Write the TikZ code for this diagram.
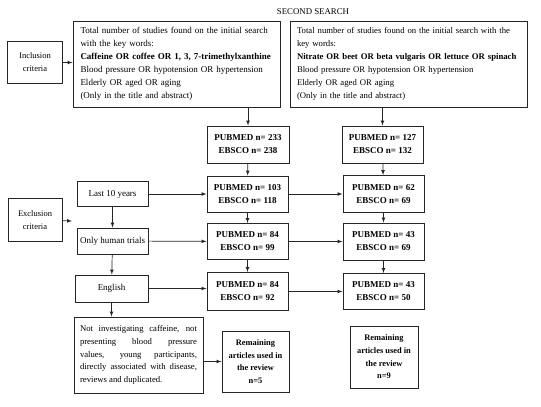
\documentclass[tikz,border=0pt]{standalone}
\usepackage{fontspec}
\setmainfont{Liberation Serif}
\usetikzlibrary{arrows}

\begin{document}
\begin{tikzpicture}[x=1pt,y=-1pt,
    box/.style={draw=black!85, line width=1pt, rectangle, align=center, inner sep=0pt, font=\fontsize{9}{13}\selectfont},
    link/.style={-latex, draw=black!85, line width=0.7pt}]
                \useasboundingbox (0,0) rectangle (541,407);
                \node[font=\fontsize{8.8}{10}\selectfont] (title) at (313,12) {SECOND SEARCH};
                \node[box, minimum width=55pt, minimum height=42pt, font=\fontsize{8.5}{13}\selectfont] (incl) at (35,62) {Inclusion\\criteria};
                \node[box, minimum width=54pt, minimum height=43pt, font=\fontsize{8.5}{13}\selectfont] (excl) at (35,220) {Exclusion\\criteria};
                \node[box, minimum width=207pt, minimum height=86pt, text width=192pt, align=left] (search1) at (176.5,64) {Total number of studies found on the initial search\\with the key words:\\\textbf{Caffeine OR coffee OR 1, 3, 7-trimethylxanthine}\\Blood pressure OR hypotension OR hypertension\\Elderly OR aged OR aging\\(Only in the title and abstract)};
                \node[box, minimum width=237pt, minimum height=86pt, text width=223pt, align=left, font=\fontsize{8.7}{13}\selectfont] (search2) at (408.5,64) {\mbox{Total number of studies found on the initial search with the}\\key words:\\\mbox{\textbf{Nitrate OR beet OR beta vulgaris OR lettuce OR spinach}}\\Blood pressure OR hypotension OR hypertension\\Elderly OR aged OR aging\\(Only in the title and abstract)};
                \node[box, minimum width=82pt, minimum height=37pt] (pa1) at (248,144.5) {\textbf{PUBMED n= 233}\\\textbf{EBSCO n= 238}};
                \node[box, minimum width=81pt, minimum height=37pt] (pb1) at (382.5,144.5) {\textbf{PUBMED n= 127}\\\textbf{EBSCO n= 132}};
                \node[box, minimum width=71pt, minimum height=25pt] (last10) at (112.5,194) {Last 10 years};
                \node[box, minimum width=81pt, minimum height=36pt] (pa2) at (247.5,194) {\textbf{PUBMED n= 103}\\\textbf{EBSCO n= 118}};
                \node[box, minimum width=81pt, minimum height=37pt] (pb2) at (383.5,194) {\textbf{PUBMED n= 62}\\\textbf{EBSCO n= 69}};
                \node[box, minimum width=71pt, minimum height=26pt] (human) at (112.5,241) {Only human trials};
                \node[box, minimum width=81pt, minimum height=36pt] (pa3) at (247.5,241.5) {\textbf{PUBMED n= 84}\\\textbf{EBSCO n= 99}};
                \node[box, minimum width=81pt, minimum height=37pt] (pb3) at (383.5,241.5) {\textbf{PUBMED n= 43}\\\textbf{EBSCO n= 69}};
                \node[box, minimum width=73pt, minimum height=27pt] (english) at (111.5,288.5) {English};
                \node[box, minimum width=81pt, minimum height=38pt] (pa4) at (247.5,291.5) {\textbf{PUBMED n= 84}\\\textbf{EBSCO n= 92}};
                \node[box, minimum width=81pt, minimum height=36pt] (pb4) at (383.5,291.5) {\textbf{PUBMED n= 43}\\\textbf{EBSCO n= 50}};
                \node[box, minimum width=129pt, minimum height=76pt, text width=117pt, align=justify, font=\fontsize{8.7}{12.7}\selectfont] (reasons) at (138.5,355) {Not investigating caffeine, not\linebreak presenting blood pressure\linebreak values, young participants,\linebreak directly associated with disease,\linebreak reviews and duplicated.};
                \node[box, minimum width=67pt, minimum height=61pt, font=\fontsize{8.4}{12.6}\selectfont\bfseries] (rem1) at (255.5,361.5) {Remaining\\articles used in\\the review\\n=5};
                \node[box, minimum width=68pt, minimum height=62pt, font=\fontsize{8.4}{12.6}\selectfont\bfseries] (rem2) at (384,357) {Remaining\\articles used in\\the review\\n=9};
                \coordinate (exclend) at (72,221);

                \draw[link] (incl) -- (search1);
                \draw[link] (excl) -- (exclend);
                \draw[link] (pa1.north |- search1.south) -- (pa1.north);
                \draw[link] (pb1.north |- search2.south) -- (pb1.north);
                \draw[link] (pa1) -- (pa2);
                \draw[link] (pa2) -- (pa3);
                \draw[link] (pa3) -- (pa4);
                \draw[link] (pb1) -- (pb2);
                \draw[link] (pb2) -- (pb3);
                \draw[link] (pb3) -- (pb4);
                \draw[link] (last10) -- (pa2);
                \draw[link] (human) -- (pa3);
                \draw[link] (english) -- (english -| pa4.west);
                \draw[link] (pa2) -- (pb2);
                \draw[link] (pa3) -- (pb3);
                \draw[link] (pa4) -- (pb4);
                \draw[link] (last10) -- (human);
                \draw[link] (human) -- (english);
                \draw[link] (english) -- (english |- reasons.north);
                \draw[link] (reasons.east |- rem1) -- (rem1);
            \end{tikzpicture}
\end{document}
